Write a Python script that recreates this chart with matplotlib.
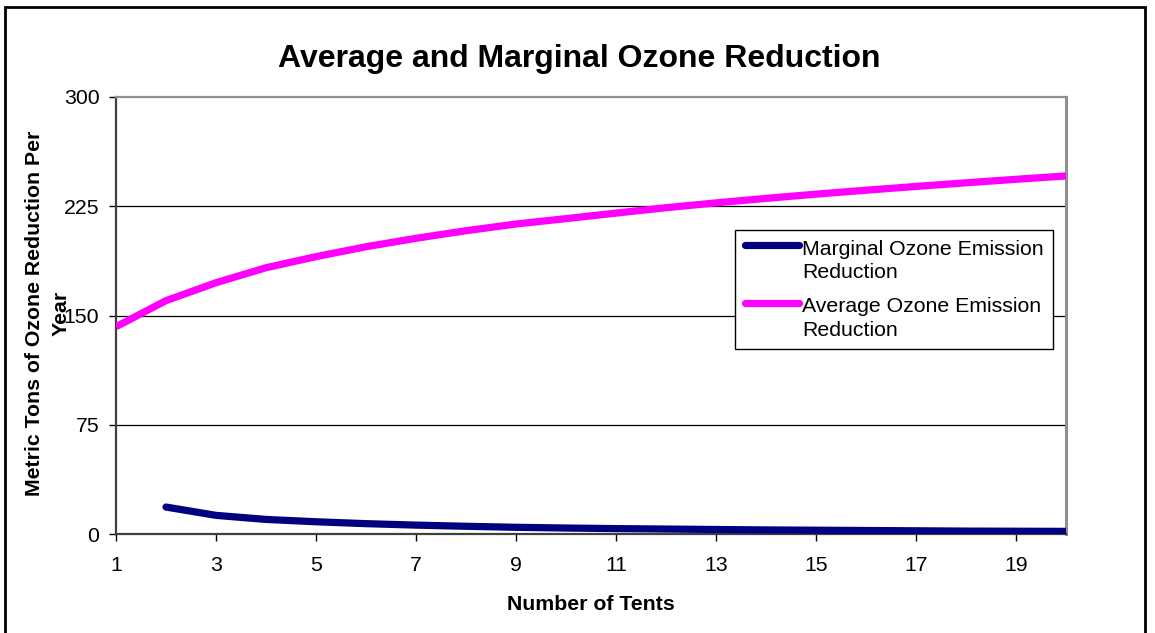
import numpy as np
import matplotlib
matplotlib.use("Agg")
import matplotlib.pyplot as plt
from matplotlib.lines import Line2D
from matplotlib.patches import Rectangle
from matplotlib.legend_handler import HandlerLine2D

plt.rcParams['font.family'] = ['Liberation Sans', 'DejaVu Sans']

# ---- data ----
tents_avg = list(range(1, 21))
average_reduction = [142.3, 160.2, 172.5, 182.8, 190.4, 197.2, 203.0, 208.2, 212.8, 216.5,
                     220.3, 224.0, 227.3, 230.4, 233.3, 236.0, 238.6, 241.1, 243.5, 245.8]
tents_marg = list(range(2, 21))
marginal_reduction = [18.5, 12.8, 10.0, 8.4, 7.1, 6.1, 5.3, 4.6, 4.1, 3.7,
                      3.4, 3.1, 2.8, 2.6, 2.4, 2.2, 2.0, 1.9, 1.8]
x_ticks = [1, 3, 5, 7, 9, 11, 13, 15, 17, 19]
y_ticks = [0, 75, 150, 225, 300]

title = "Average and Marginal Ozone Reduction"
xlabel = "Number of Tents"
ylabel = "Metric Tons of Ozone Reduction Per\nYear"
label_marg = "Marginal Ozone Emission\nReduction"
label_avg = "Average Ozone Emission\nReduction"

W, H = 1155, 633
fig = plt.figure(figsize=(W / 100, H / 100), dpi=100)
ax = fig.add_axes([116 / W, 1 - 534 / H, (1066 - 116) / W, (534 - 97) / H])

FS = 15.3

ax.plot(tents_marg, marginal_reduction, color='#000080', lw=5.2,
        solid_capstyle='round', solid_joinstyle='round', label=label_marg, zorder=4)
ax.plot(tents_avg, average_reduction, color='#FF00FF', lw=5.2,
        solid_capstyle='butt', solid_joinstyle='round', label=label_avg, zorder=4)

ax.set_xlim(1, 20)
ax.set_ylim(0, 300)
ax.set_xticks(x_ticks)
ax.set_yticks(y_ticks)
ax.tick_params(axis='both', direction='out', length=5, width=1, colors='#000000',
               labelsize=FS)
ax.tick_params(axis='x', pad=10.5)
ax.tick_params(axis='y', pad=7)
for v in y_ticks[1:-1]:
    ax.axhline(v, color='#000000', lw=0.9, zorder=1)

ax.spines['left'].set_color('#404040')
ax.spines['left'].set_linewidth(1.6)
ax.spines['bottom'].set_color('#404040')
ax.spines['bottom'].set_linewidth(1.6)
ax.spines['top'].set_color('#909090')
ax.spines['top'].set_linewidth(1.6)
ax.spines['right'].set_color('#909090')
ax.spines['right'].set_linewidth(2.2)


class TopLine(HandlerLine2D):
    def create_artists(self, legend, orig_handle, xdescent, ydescent, width, height,
                       fontsize, trans):
        arts = super().create_artists(legend, orig_handle, xdescent, ydescent, width,
                                      height, fontsize, trans)
        for a in arts:
            a.set_ydata(np.asarray(a.get_ydata(), dtype=float) + 0.75 * fontsize)
        return arts


leg = ax.legend(loc='upper left', bbox_to_anchor=((735 - 116) / 950, (534 - 230) / 437),
                borderaxespad=0, fontsize=FS, frameon=True, fancybox=False,
                edgecolor='#000000', framealpha=1, handlelength=2.55, handletextpad=0.15,
                borderpad=0.45, labelspacing=0.72,
                handler_map={Line2D: TopLine()})
leg.get_frame().set_linewidth(1.0)
leg.set_zorder(6)
for t in leg.get_texts():
    t.set_linespacing(1.3)
for h in leg.get_lines():
    h.set_solid_capstyle('round')

fig.text(579 / W, 1 - 59 / H, title, ha='center', va='center', fontsize=23,
         fontweight='bold')
fig.text(591 / W, 1 - 604 / H, xlabel, ha='center', va='center', fontsize=FS,
         fontweight='bold')
fig.text(48 / W, 1 - 313 / H, ylabel, ha='center', va='center', fontsize=FS,
         fontweight='bold', rotation=90, multialignment='center', linespacing=1.5)

fig.add_artist(Rectangle((4.5 / W, -0.2), (1145 - 4.5) / W, 1.2 - 7 / H,
                         transform=fig.transFigure, fill=False, edgecolor='#000000',
                         lw=2.0, clip_on=False))

fig.savefig("out.png", dpi=100)
